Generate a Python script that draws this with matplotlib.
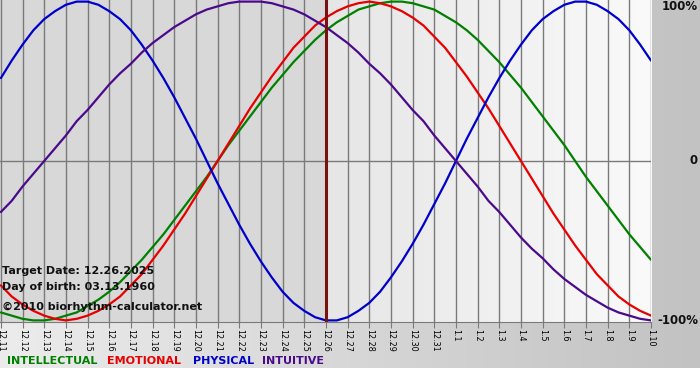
import numpy as np
import matplotlib.pyplot as plt
from matplotlib.colors import LinearSegmentedColormap

# day labels from 12.11 to 1.10
days = ['12.11', '12.12', '12.13', '12.14', '12.15', '12.16', '12.17', '12.18',
        '12.19', '12.20', '12.21', '12.22', '12.23', '12.24', '12.25', '12.26',
        '12.27', '12.28', '12.29', '12.30', '12.31', '1.1', '1.2', '1.3', '1.4',
        '1.5', '1.6', '1.7', '1.8', '1.9', '1.10']
target_idx = 15
per_day = 2  # readings every half day

physical = [0.52, 0.63, 0.73, 0.82, 0.89, 0.94, 0.98, 1.00, 1.00, 0.98, 0.94,
            0.89, 0.82, 0.73, 0.63, 0.52, 0.40, 0.27, 0.14, 0.00, -0.14, -0.27,
            -0.40, -0.52, -0.63, -0.73, -0.82, -0.89, -0.94, -0.98, -1.00, -1.00,
            -0.98, -0.94, -0.89, -0.82, -0.73, -0.63, -0.52, -0.40, -0.27, -0.14,
            0.00, 0.14, 0.27, 0.40, 0.52, 0.63, 0.73, 0.82, 0.89, 0.94, 0.98,
            1.00, 1.00, 0.98, 0.94, 0.89, 0.82, 0.73, 0.63]
emotional = [-0.78, -0.85, -0.90, -0.94, -0.97, -0.99, -1.00, -0.99, -0.97, -0.94,
             -0.90, -0.85, -0.78, -0.71, -0.62, -0.53, -0.43, -0.33, -0.22, -0.11,
             0.00, 0.11, 0.22, 0.33, 0.43, 0.53, 0.62, 0.71, 0.78, 0.85, 0.90,
             0.94, 0.97, 0.99, 1.00, 0.99, 0.97, 0.94, 0.90, 0.85, 0.78, 0.71,
             0.62, 0.53, 0.43, 0.33, 0.22, 0.11, 0.00, -0.11, -0.22, -0.33, -0.43,
             -0.53, -0.62, -0.71, -0.78, -0.85, -0.90, -0.94, -0.97]
intellectual = [-0.95, -0.97, -0.99, -1.00, -1.00, -0.99, -0.97, -0.95, -0.91, -0.87,
                -0.82, -0.76, -0.69, -0.62, -0.54, -0.46, -0.37, -0.28, -0.19, -0.10,
                0.00, 0.10, 0.19, 0.28, 0.37, 0.46, 0.54, 0.62, 0.69, 0.76, 0.82,
                0.87, 0.91, 0.95, 0.97, 0.99, 1.00, 1.00, 0.99, 0.97, 0.95, 0.91,
                0.87, 0.82, 0.76, 0.69, 0.62, 0.54, 0.46, 0.37, 0.28, 0.19, 0.10,
                0.00, -0.10, -0.19, -0.28, -0.37, -0.46, -0.54, -0.62]
intuitive = [-0.32, -0.25, -0.16, -0.08, 0.00, 0.08, 0.16, 0.25, 0.32, 0.40, 0.48,
             0.55, 0.61, 0.68, 0.74, 0.79, 0.84, 0.88, 0.92, 0.95, 0.97, 0.99,
             1.00, 1.00, 1.00, 0.99, 0.97, 0.95, 0.92, 0.88, 0.84, 0.79, 0.74,
             0.68, 0.61, 0.55, 0.48, 0.40, 0.32, 0.25, 0.16, 0.08, 0.00, -0.08,
             -0.16, -0.25, -0.32, -0.40, -0.48, -0.55, -0.61, -0.68, -0.74, -0.79,
             -0.84, -0.88, -0.92, -0.95, -0.97, -0.99, -1.00]

series = [('INTELLECTUAL', intellectual, '#008000'),
          ('EMOTIONAL', emotional, '#e80000'),
          ('PHYSICAL', physical, '#0000cc'),
          ('INTUITIVE', intuitive, '#4b0a8c')]

W, H = 700, 380
fig = plt.figure(figsize=(W / 100, H / 100), dpi=100)
fig.patch.set_facecolor('white')

# outer frame gradient (light at left, gray at right), white below
bg = fig.add_axes([0, 1 - 368 / H, 1, 368 / H])
grad = np.linspace(0, 1, 256).reshape(1, -1)
bg.imshow(grad, aspect='auto', extent=[0, 1, 0, 1],
          cmap=LinearSegmentedColormap.from_list('f', ['#ececec', '#c2c2c2']))
bg.set_axis_off()

x = np.arange(len(days))
ax = fig.add_axes([0, 1 - 322 / H, 651 / W, 322 / H])

# past part darker, future part with light gradient
ax.axvspan(-1, target_idx, color='#d8d8d8', zorder=0)
ax.imshow(grad, aspect='auto', extent=[target_idx, len(days) - 1, -1.01, 1.01],
          cmap=LinearSegmentedColormap.from_list('p', ['#e6e6e6', '#fafafa']), zorder=0)
ax.set_xlim(-0.04, len(days) - 1)
ax.set_ylim(-1.01, 1.01)

for xi in x:
    ax.axvline(xi, color='#7a7a7a', lw=1, zorder=1)
ax.axhline(0, color='#7a7a7a', lw=1, zorder=1)

for name, vals, col in series:
    xs = np.arange(len(vals)) / per_day
    ax.plot(xs, vals, color=col, lw=1.6, zorder=3, solid_capstyle='round')

ax.axvline(target_idx, color='#7a1010', lw=2.2, zorder=4)

for s in ['left', 'right', 'top']:
    ax.spines[s].set_visible(False)
ax.spines['bottom'].set_color('#7a7a7a')
ax.set_yticks([])
ax.set_xticks(x)
ax.set_xticklabels(days, rotation=270, fontsize=5.8, fontfamily='DejaVu Sans')
ax.tick_params(axis='x', length=4, color='#7a7a7a', pad=1)

# right scale labels
for lab, py in [('100%', 7), ('0', 161), ('-100%', 321)]:
    fig.text(698 / W, 1 - py / H, lab, ha='right', va='center',
             fontsize=8.5, fontweight='bold', color='#111111')

# info text
info = ['Target Date: 12.26.2025', 'Day of birth: 03.13.1960', '\u00a92010 biorhythm-calculator.net']
for txt, py in zip(info, [271, 287, 307]):
    ax.text(2 / W, 1 - py / H, txt, transform=fig.transFigure, ha='left', va='center',
            fontsize=8, fontweight='bold', color='#111111', zorder=5)

# legend row
lx = 7
for name, vals, col in series:
    fig.text(lx / W, 1 - 361 / H, name, ha='left', va='center',
             fontsize=8, fontweight='bold', color=col)
    lx += {'INTELLECTUAL': 100, 'EMOTIONAL': 86, 'PHYSICAL': 69, 'INTUITIVE': 0}[name]

fig.savefig('out.png', dpi=100)
